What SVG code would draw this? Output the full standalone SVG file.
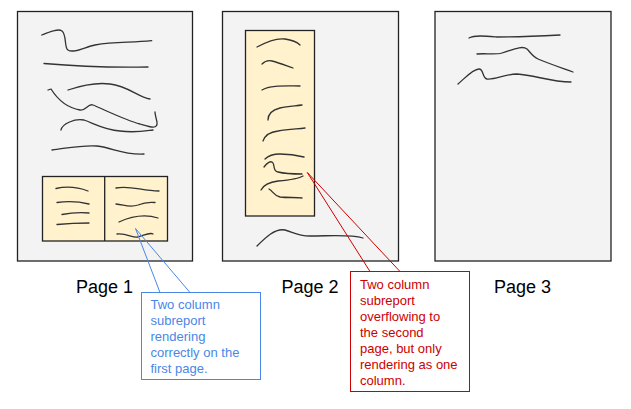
<svg xmlns="http://www.w3.org/2000/svg" width="631" height="409" viewBox="0 0 631 409">
<style>
.page{fill:#f3f3f3;stroke:#222;stroke-width:1.3}
.sub{fill:#fff2cc;stroke:#222;stroke-width:1.3}
.sq{fill:none;stroke:#333;stroke-width:1.3;stroke-linecap:round;stroke-linejoin:round}
.lbl{font-family:"Liberation Sans",Arial,sans-serif;font-size:18px;fill:#000}
.ct{font-family:"Liberation Sans",Arial,sans-serif;font-size:13px}
.blue{fill:#4a86e8}
.red{fill:#cc0000}
.bbox{fill:#fff;stroke:#4a86e8;stroke-width:1}
.rbox{fill:#fff;stroke:#cc0000;stroke-width:1}
.bl{fill:none;stroke:#4a86e8;stroke-width:1}
.rl{fill:none;stroke:#cc0000;stroke-width:1}
</style>
<g id="page1">
<rect class="page" x="17.5" y="11.5" width="175" height="249.5"/>
<path class="sq" d="M41.7,35 C50,32 58,28 62,31 C67,35 64,48 68,50 C73,54 85,47 95,45 C115,41 130,43 151.7,40.7"/>
<path class="sq" d="M44,63.5 Q95,68 148,67"/>
<path class="sq" d="M68,90 C80,86 95,82 110,84 C128,86 138,97 150,99"/>
<path class="sq" d="M48,90 L51,89 C58,100 68,108 80,110 C86,111 88,103 93,105 C105,110 125,120 140,124 C150,127 158,130 157,122 C156,118 155,114 155,112"/>
<path class="sq" d="M61,130 C62,124 75,118 84,120 C95,124 105,130 120,131 C135,133 145,131 153,130"/>
<path class="sq" d="M52,150 C68,148 82,145 97,146 C114,148 122,155 144,154"/>
<g id="subreport1">
<rect class="sub" x="42.5" y="176.5" width="125" height="64.5"/>
<line x1="104.7" y1="176.5" x2="104.7" y2="241" stroke="#222" stroke-width="1.3"/>
<path class="sq" d="M56,188.5 Q72,185 88,191"/>
<path class="sq" d="M57,202.5 Q73,200 89,204"/>
<path class="sq" d="M62,214.5 Q75,212 89,213"/>
<path class="sq" d="M57,224.5 Q73,223 89,223"/>
<path class="sq" d="M116,188 C130,185 142,191 159,191"/>
<path class="sq" d="M116,204 C125,205 130,208 138,205 C145,202 150,202 155,202.5"/>
<path class="sq" d="M119,222 C130,217 145,214 158,218"/>
<path class="sq" d="M117,234 C127,233 132,238 138,237 C145,235 150,232 153,234"/>
</g>
<text class="lbl" x="76" y="293">Page 1</text>
</g>
<g id="page2">
<rect class="page" x="222.5" y="11.5" width="176" height="249.5"/>
<g id="subreport2">
<rect class="sub" x="245.5" y="30.5" width="69" height="185.5"/>
<path class="sq" d="M257,47 C268,41 278,38 285,39 C292,40 298,43 300,45"/>
<path class="sq" d="M262,64 C265,61 268,60 272,61 C280,63 287,66 293,68"/>
<path class="sq" d="M262,90 C270,85 285,86 300,86"/>
<path class="sq" d="M268,120 C268,114 272,110 280,108 C288,106 295,106 302,105"/>
<path class="sq" d="M263,141 C265,135 270,132 278,131 C288,129 297,129 305,128"/>
<path class="sq" d="M265,159 C268,156 272,154 280,154 C290,154 300,156 304,157"/>
<path class="sq" d="M264,167 C267,163 271,160 273,163 C275,167 273,171 278,172 C286,174 295,174 302,174"/>
<path class="sq" d="M261,190 C264,184 270,182 278,181 C290,180 300,178 303,176"/>
<path class="sq" d="M269,189 C273,191 274,196 280,197 C288,198 295,197 302,198"/>
</g>
<path class="sq" d="M257,246 C265,238 275,228 285,230 C293,232 297,236 310,236 C330,236 350,234 363,238"/>
<text class="lbl" x="281.5" y="293">Page 2</text>
</g>
<g id="page3">
<rect class="page" x="435" y="11.5" width="176" height="249.5"/>
<path class="sq" d="M469,38 C475,35 485,36 497,37 C520,37 540,36 560,35"/>
<path class="sq" d="M477,54 C485,53 495,55 502,53 C512,50 522,45 527,49 C530,52 533,57 538,59 C550,64 562,68 573,72"/>
<path class="sq" d="M458,84 C465,78 473,69 479,69 C484,69 482,78 487,79 C495,80 505,74 517,74 C535,75 550,82 571,82"/>
<text class="lbl" x="494" y="293">Page 3</text>
</g>
<g id="connectors">
<path class="bl" d="M160,292.5 L135.5,228.5 L190,292.5"/>
<path class="rl" d="M370,271.5 L307.3,172.5 L400,271.5"/>
</g>
<g id="callout-blue">
<rect class="bbox" x="141.5" y="292.5" width="119" height="87"/>
<text class="ct blue" x="150.5" y="308.5">Two column</text>
<text class="ct blue" x="150.5" y="324.5">subreport</text>
<text class="ct blue" x="150.5" y="340.5">rendering</text>
<text class="ct blue" x="150.5" y="356.5">correctly on the</text>
<text class="ct blue" x="150.5" y="372.5">first page.</text>
</g>
<g id="callout-red">
<rect class="rbox" x="350.5" y="271.5" width="119" height="120"/>
<text class="ct red" x="360" y="289">Two column</text>
<text class="ct red" x="360" y="305">subreport</text>
<text class="ct red" x="360" y="321">overflowing to</text>
<text class="ct red" x="360" y="337">the second</text>
<text class="ct red" x="360" y="353">page, but only</text>
<text class="ct red" x="360" y="369">rendering as one</text>
<text class="ct red" x="360" y="385">column.</text>
</g>
</svg>
